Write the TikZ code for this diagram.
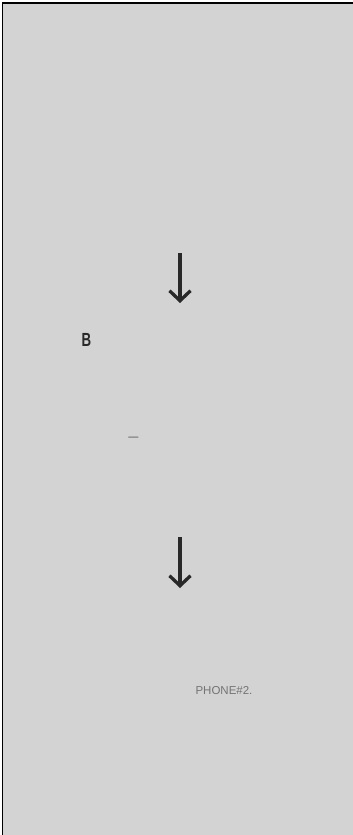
\documentclass[tikz,border=0pt]{standalone}
\usepackage{fontspec}
\setsansfont{Liberation Sans}
\usetikzlibrary{arrows.meta}
\definecolor{panelgray}{RGB}{211,211,211}
\definecolor{inkgray}{RGB}{40,40,40}

\begin{document}
\begin{tikzpicture}[x=1pt, y=-1pt, >={Straight Barb[length=10pt,width=21pt]}]
  \useasboundingbox (0,0) rectangle (353,835);
  \fill[panelgray] (3,3) rectangle (353,835);
  \draw[line width=1.4pt] (2.7,835) -- (2.7,3) -- (353,3);
  \coordinate (arrowAtop) at (180,253);
  \coordinate (arrowAbot) at (180,303);
  \coordinate (arrowBtop) at (180,537);
  \coordinate (arrowBbot) at (180,588);
  \draw[->, line width=3.3pt, draw=inkgray] (arrowAtop) -- (arrowAbot);
  \draw[->, line width=3.3pt, draw=inkgray] (arrowBtop) -- (arrowBbot);
  \node[inner sep=0pt, text=inkgray, font=\sffamily\bfseries\fontsize{19}{19}\selectfont, xscale=0.7] (letterB) at (86.5,339.5) {B};
  \node[inner sep=0pt, anchor=base, text=inkgray, font=\bfseries\fontsize{18}{18}\selectfont] (dash) at (133.5,442) {--};
  \node[inner sep=0pt, text=gray!90!black, font=\sffamily\fontsize{11.5}{11.5}\selectfont] (phone) at (224,691) {PHONE\#2.};
\end{tikzpicture}
\end{document}
